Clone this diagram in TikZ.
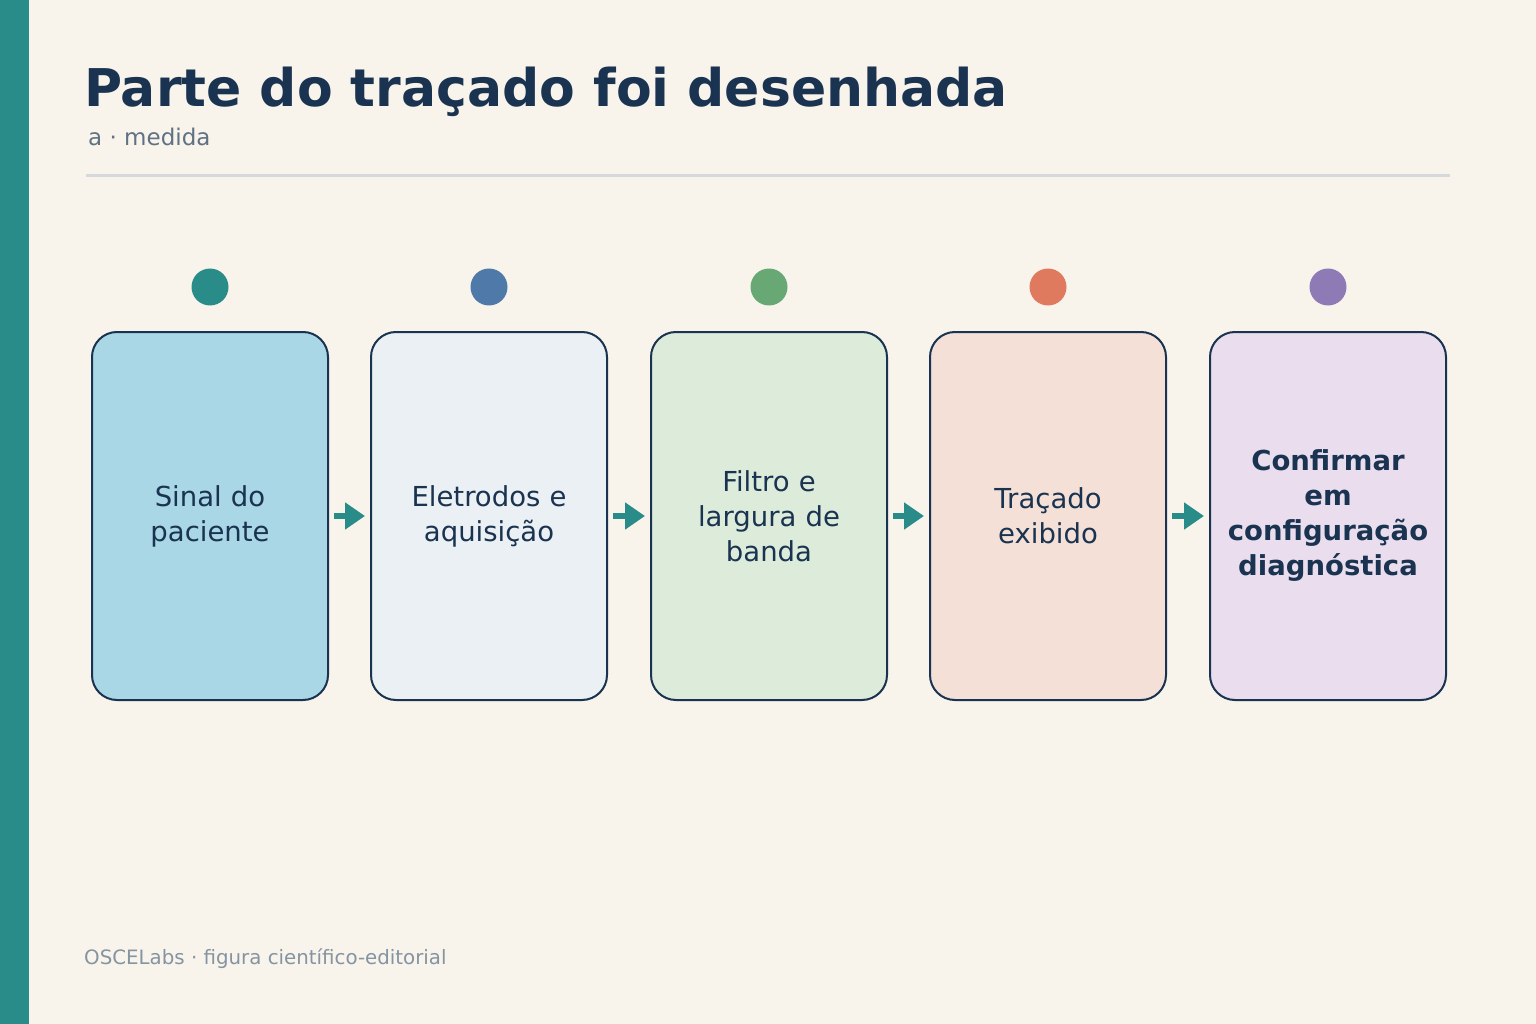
\documentclass[tikz,border=0pt]{standalone}
\usepackage{fontspec}
\setmainfont{DejaVu Sans}
\usetikzlibrary{arrows.meta}
\definecolor{bg}{HTML}{F8F4EC}
\definecolor{teal}{HTML}{2A8C89}
\definecolor{navy}{HTML}{1A3350}
\definecolor{sub}{HTML}{5F7182}
\definecolor{foot}{HTML}{8494A0}
\definecolor{c1}{HTML}{A9D7E5}\definecolor{d1}{HTML}{2A8C89}
\definecolor{c2}{HTML}{EAF0F3}\definecolor{d2}{HTML}{4F79A8}
\definecolor{c3}{HTML}{DDECDA}\definecolor{d3}{HTML}{67A874}
\definecolor{c4}{HTML}{F4E0D7}\definecolor{d4}{HTML}{E07A5F}
\definecolor{c5}{HTML}{E9DDEE}\definecolor{d5}{HTML}{8E7BB5}
\begin{document}
\begin{tikzpicture}[x=1pt,y=-1pt,
 box/.style={draw=navy,line width=2,rounded corners=25,minimum width=236,minimum height=368,anchor=north west,align=center,text width=225,font=\fontsize{27.5}{35}\selectfont,text=navy},
 dot/.style={circle,minimum size=37,inner sep=0},
 arr/.style={draw=teal,line width=6,-{Triangle[length=20,width=26]}}]
\useasboundingbox (0,0) rectangle (1536,1024);
\fill[bg] (0,0) rectangle (1536,1024);
\fill[teal] (0,0) rectangle (29,1024);
\node[anchor=base west,inner sep=0,text=navy,font=\fontsize{52}{60}\selectfont\bfseries] (t) at (84,107) {Parte do traçado foi desenhada};
\node[anchor=base west,inner sep=0,text=sub,font=\fontsize{23}{26}\selectfont] (s) at (88,146) {a · medida};
\draw[line width=3,draw=c2!80!gray] (86,176) -- (1450,176);
\node[box,fill=c1] (b1) at (91,331) {Sinal do\\paciente};
\node[box,fill=c2] (b2) at (370,331) {Eletrodos e\\aquisição};
\node[box,fill=c3] (b3) at (650,331) {Filtro e\\largura de\\banda};
\node[box,fill=c4] (b4) at (929,331) {Traçado\\exibido};
\node[box,fill=c5,font=\fontsize{27.5}{35}\selectfont\bfseries] (b5) at (1209,331) {Confirmar\\em\\configuração\\diagnóstica};
\foreach \i in {1,...,5}{\node[dot,fill=d\i] (p\i) at ([yshift=44]b\i.north) {};}
\foreach \a/\b in {b1/b2,b2/b3,b3/b4,b4/b5}{\draw[arr] ([xshift=5]\a.east) -- ([xshift=-5]\b.west);}
\node[anchor=base west,inner sep=0,text=foot,font=\fontsize{19.8}{22}\selectfont] (f) at (84,964) {OSCELabs · figura científico-editorial};
\end{tikzpicture}
\end{document}
